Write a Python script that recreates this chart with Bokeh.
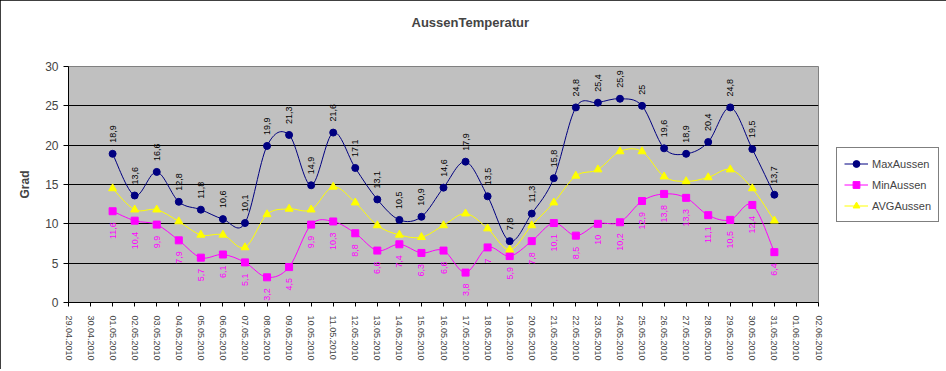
import math
import pandas as pd
from bokeh.plotting import figure
from bokeh.models import (ColumnDataSource, Range1d, FixedTicker, DatetimeTickFormatter,
                          Legend, LegendItem, Title)
from bokeh.embed import file_html
from bokeh.resources import INLINE

# ---- data ----
dates = pd.date_range("2010-05-01", "2010-05-31", freq="D")
max_aussen = [18.9, 13.6, 16.6, 12.8, 11.8, 10.6, 10.1, 19.9, 21.3, 14.9, 21.6, 17.1, 13.1, 10.5, 10.9,
              14.6, 17.9, 13.5, 7.8, 11.3, 15.8, 24.8, 25.4, 25.9, 25.0, 19.6, 18.9, 20.4, 24.8, 19.5, 13.7]
min_aussen = [11.6, 10.4, 9.9, 7.9, 5.7, 6.1, 5.1, 3.2, 4.5, 9.9, 10.3, 8.8, 6.6, 7.4, 6.3,
              6.6, 3.8, 7.0, 5.9, 7.8, 10.1, 8.5, 10.0, 10.2, 12.9, 13.8, 13.3, 11.1, 10.5, 12.4, 6.4]
avg_aussen = [14.5, 11.8, 11.8, 10.3, 8.6, 8.6, 7.0, 11.2, 11.9, 11.8, 14.7, 12.7, 9.8, 8.6, 8.3,
              9.8, 11.3, 9.4, 6.7, 9.8, 12.7, 16.1, 16.9, 19.2, 19.2, 16.0, 15.4, 15.9, 16.9, 14.5, 10.4]
axis_start, axis_end = "2010-04-29", "2010-06-02"
y_ticks = [0, 5, 10, 15, 20, 25, 30]
title_text = "AussenTemperatur"

def ms(d):
    return pd.Timestamp(d).value / 1e6

xs = [ms(d) for d in dates]
tick_days = [ms(d) for d in pd.date_range(axis_start, axis_end, freq="D")]

def fmt(v):
    return ("%g" % v).replace(".", ",")

def bezier_source(x, y):
    n = len(x)
    d = dict(x0=[], y0=[], x1=[], y1=[], cx0=[], cy0=[], cx1=[], cy1=[])
    for i in range(n - 1):
        p0 = (x[i - 1], y[i - 1]) if i > 0 else (x[i], y[i])
        p1 = (x[i], y[i])
        p2 = (x[i + 1], y[i + 1])
        p3 = (x[i + 2], y[i + 2]) if i + 2 < n else (x[i + 1], y[i + 1])
        d["x0"].append(p1[0]); d["y0"].append(p1[1])
        d["x1"].append(p2[0]); d["y1"].append(p2[1])
        d["cx0"].append(p1[0] + (p2[0] - p0[0]) / 6); d["cy0"].append(p1[1] + (p2[1] - p0[1]) / 6)
        d["cx1"].append(p2[0] - (p3[0] - p1[0]) / 6); d["cy1"].append(p2[1] - (p3[1] - p1[1]) / 6)
    return ColumnDataSource(d)

FONT = "Liberation Sans"

p = figure(frame_width=750, frame_height=236, x_axis_type="datetime", output_backend="svg",
           toolbar_location=None,
           x_range=Range1d(ms(axis_start), ms(axis_end)), y_range=Range1d(0, 30),
           min_border_left=68, min_border_right=126, min_border_top=66, min_border_bottom=67)
p.styles = {"outline": "1px solid black", "outline-offset": "-1px"}

# spacer between the title and the plot area
p.add_layout(Title(text=" ", text_font_size="18px", text_color="white"), "above")

p.title.text = title_text
p.title.align = "left"
p.title.offset = 343
p.title.text_font = FONT
p.title.text_font_size = "13px"
p.title.text_font_style = "bold"

p.background_fill_color = "#C0C0C0"
p.border_fill_color = "white"
p.outline_line_color = "#808080"
p.outline_line_width = 1

p.xgrid.visible = False
p.ygrid.ticker = FixedTicker(ticks=[5, 10, 15, 20, 25])
p.ygrid.grid_line_color = "black"
p.ygrid.grid_line_width = 1

p.yaxis.ticker = FixedTicker(ticks=y_ticks)
p.yaxis.axis_label = "Grad"
p.yaxis.axis_label_text_font = FONT
p.yaxis.axis_label_text_font_style = "bold"
p.yaxis.axis_label_text_font_size = "12px"
p.yaxis.axis_label_standoff = 10
p.yaxis.major_label_text_font = FONT
p.yaxis.major_label_text_font_size = "12px"
p.yaxis.major_label_standoff = 5
p.yaxis.major_tick_out = 5
p.yaxis.major_tick_in = 0
p.yaxis.minor_tick_line_color = None
p.yaxis.axis_line_color = "black"

p.xaxis.ticker = FixedTicker(ticks=tick_days)
p.xaxis.formatter = DatetimeTickFormatter(days="%d.%m.%Y", months="%d.%m.%Y", hours="%d.%m.%Y")
p.xaxis.major_label_orientation = -math.pi / 2
p.xaxis.major_label_text_font = FONT
p.xaxis.major_label_text_font_size = "9px"
p.xaxis.major_tick_out = 4
p.xaxis.major_tick_in = 0
p.xaxis.major_label_standoff = 9
p.xaxis.minor_tick_line_color = None
p.xaxis.axis_line_color = "black"

series = [
    ("MaxAussen", max_aussen, "#000080", "circle"),
    ("MinAussen", min_aussen, "#FF00FF", "square"),
    ("AVGAussen", avg_aussen, "#FFFF00", "triangle"),
]
items = []
for name, vals, col, marker in series:
    bz = p.bezier("x0", "y0", "x1", "y1", "cx0", "cy0", "cx1", "cy1",
                  source=bezier_source(xs, vals), line_color=col, line_width=1)
    src = ColumnDataSource(dict(x=xs, y=vals, lab=[fmt(v) for v in vals]))
    sc = p.scatter("x", "y", source=src, marker=marker, size=7 if marker != "triangle" else 8,
                   fill_color=col, line_color=col)
    items.append(LegendItem(label=name, renderers=[bz, sc]))
    if name == "MaxAussen":
        p.text("x", "y", text="lab", source=src, angle=math.pi / 2, text_align="left",
               text_baseline="middle", y_offset=-11, text_font_size="9px", text_color="black",
               text_font={"value": FONT})
    elif name == "MinAussen":
        p.text("x", "y", text="lab", source=src, angle=math.pi / 2, text_align="right",
               text_baseline="middle", y_offset=11, text_font_size="9px", text_color="#FF00FF",
               text_font={"value": FONT})

legend = Legend(items=items, location=(18, 80), padding=7, spacing=4, margin=0,
                glyph_width=24, glyph_height=17, label_height=17, label_standoff=4,
                label_text_font=FONT, label_text_font_size="11px",
                border_line_color="black", border_line_width=1,
                background_fill_color="white", background_fill_alpha=1)
p.add_layout(legend, "right")

open("out.html", "w").write(file_html(p, INLINE))
